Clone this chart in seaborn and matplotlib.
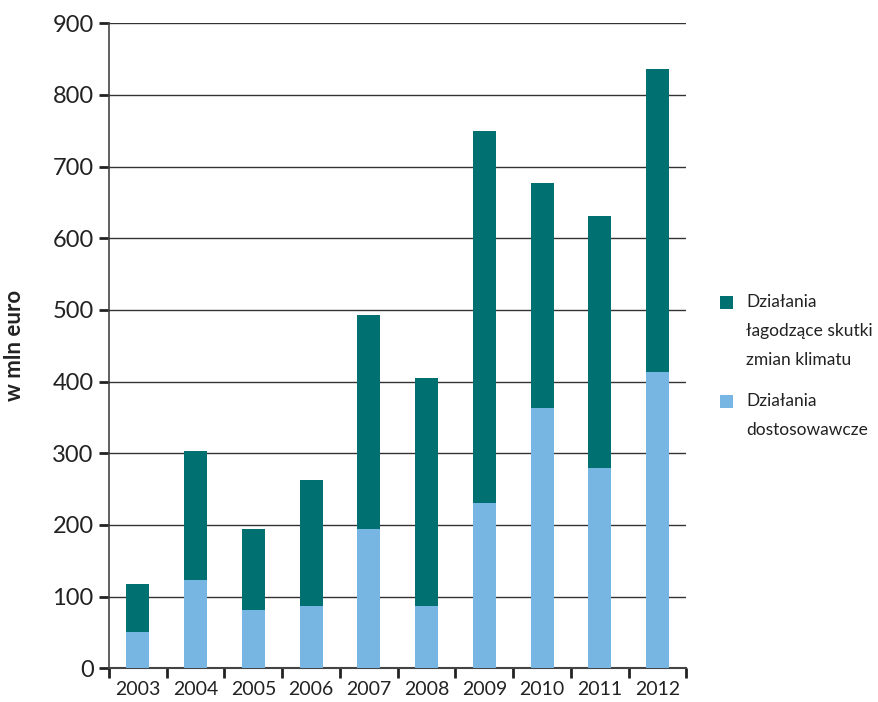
import pandas as pd
import numpy as np
import matplotlib.pyplot as plt
import seaborn as sns
from matplotlib.patches import Rectangle

years = ['2003', '2004', '2005', '2006', '2007', '2008', '2009', '2010', '2011', '2012']
adapt = [50, 123, 81, 87, 194, 87, 230, 363, 280, 414]
mitig_total = [117, 303, 194, 262, 493, 405, 749, 677, 631, 836]
legend_labels = [['Działania', 'łagodzące skutki', 'zmian klimatu'], ['Działania', 'dostosowawcze']]

dark = '#007070'
light = '#77b5e3'

sns.set_style('white')
plt.rcParams['font.family'] = ['Lato', 'DejaVu Sans']

df = pd.DataFrame({'year': years, 'adapt': adapt, 'total': mitig_total})

W, H = 879, 702
fig = plt.figure(figsize=(W / 100, H / 100), dpi=100)
ax = fig.add_axes([0.124, 0.048, 0.657, 0.919])

for v in range(100, 1000, 100):
    ax.axhline(v, color='#333333', lw=1.0, zorder=0)

sns.barplot(data=df, x='year', y='total', color=dark, width=0.4, saturation=1, linewidth=0, ax=ax, zorder=2)
sns.barplot(data=df, x='year', y='adapt', color=light, width=0.4, saturation=1, linewidth=0, ax=ax, zorder=3)

ax.set_ylim(0, 900)
ax.set_xlim(-0.5, 9.5)
ax.set_yticks(range(0, 1000, 100))
ax.set_xticks(np.arange(-0.5, 10, 1), minor=False)
ax.set_xticklabels([''] * 11)
ax.set_xticks(range(10), minor=True)
ax.set_xticklabels(years, minor=True)
ax.tick_params(axis='x', which='major', bottom=True, length=7, width=2, color='#222222', direction='out')
ax.tick_params(axis='x', which='minor', bottom=True, length=0, labelsize=14, pad=9, colors='#222222')
ax.tick_params(axis='y', left=True, length=7, width=2, color='#222222', labelsize=17, labelcolor='#222222', pad=4)

ax.set_xlabel('')
ax.set_ylabel('w mln euro', fontsize=16, fontweight='bold', color='#222222', labelpad=20)

for s in ['top', 'right']:
    ax.spines[s].set_visible(False)
ax.spines['left'].set_color('#444444')
ax.spines['bottom'].set_color('#444444')
ax.spines['left'].set_linewidth(1.2)
ax.spines['bottom'].set_linewidth(1.5)

# legend drawn by hand so the marker sits on the first text line
tops = [302, 401]
for color, lines, ytop in zip([dark, light], legend_labels, tops):
    fig.add_artist(Rectangle((720 / W, 1 - (ytop + 7) / H), 13 / W, 13 / H,
                             transform=fig.transFigure, color=color, lw=0))
    for j, line in enumerate(lines):
        fig.text(746 / W, 1 - (ytop + 29 * j) / H, line, fontsize=12.5,
                 va='center', ha='left', color='#222222')

fig.savefig('out.png', dpi=100)
